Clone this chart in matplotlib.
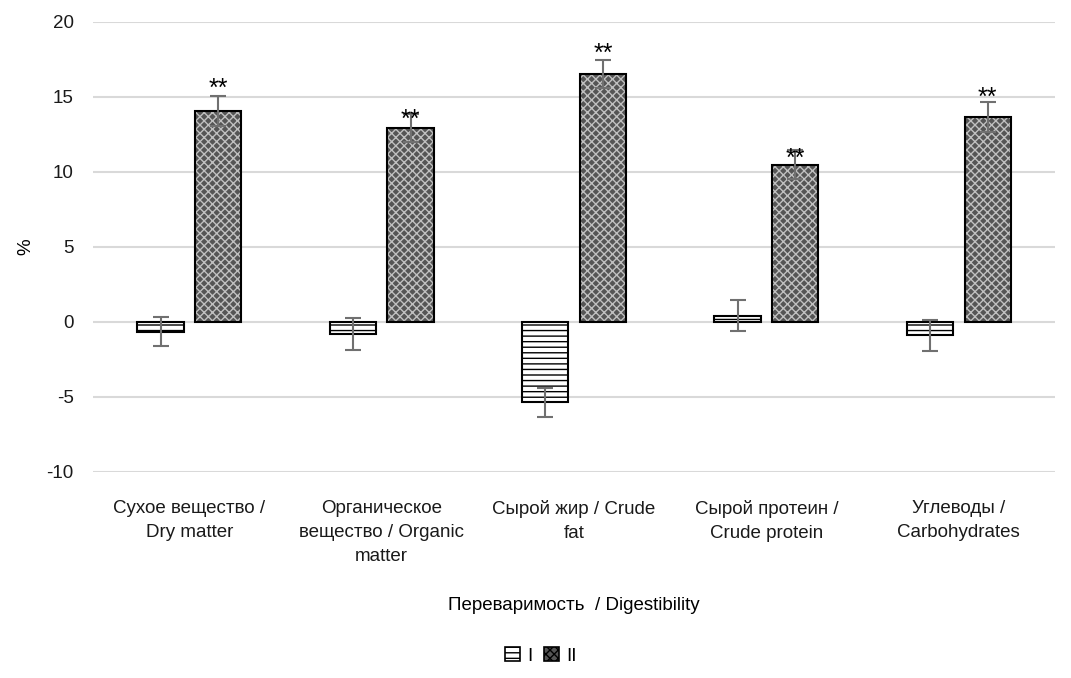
import matplotlib.pyplot as plt
import numpy as np
from matplotlib.patches import Patch

plt.rcParams.update({"font.family": ["Liberation Sans", "DejaVu Sans"], "hatch.linewidth": 1.0,
                     "axes.unicode_minus": False})

categories = ["Сухое вещество /\nDry matter",
              "Органическое\nвещество / Organic\nmatter",
              "Сырой жир / Crude\nfat",
              "Сырой протеин /\nCrude protein",
              "Углеводы /\nCarbohydrates"]
group1 = [-0.65, -0.8, -5.35, 0.4, -0.9]
group1_err = [0.95, 1.05, 0.97, 1.03, 1.03]
group2 = [14.07, 12.93, 16.53, 10.47, 13.67]
group2_err = [1.0, 0.95, 0.95, 0.97, 1.0]
stars = ["**", "**", "**", "**", "**"]
star_y = [15.5, 13.45, 17.85, 10.85, 14.95]

fig = plt.figure(figsize=(10.71, 6.78), dpi=100)
ax = fig.add_axes([0.087, 0.304, 0.898, 0.664])

x = np.arange(len(categories))
w = 0.24
off = 0.15
fs = 13.5

# group I: white with horizontal lines
ax.bar(x - off, group1, w, color="white", edgecolor="black", hatch="---", linewidth=1.5, zorder=3)
# group II: gray checker
ax.bar(x + off, group2, w, color="#555555", edgecolor="#c0c0c0", hatch="xxxx", linewidth=0, zorder=3)
ax.bar(x + off, group2, w, fill=False, edgecolor="black", linewidth=1.5, zorder=4)

ax.errorbar(x - off, group1, yerr=group1_err, fmt="none", ecolor="#707070", elinewidth=1.5,
            capsize=6, capthick=1.5, zorder=5)
ax.errorbar(x + off, group2, yerr=group2_err, fmt="none", ecolor="#707070", elinewidth=1.5,
            capsize=6, capthick=1.5, zorder=5)

for xi, s, sy in zip(x, stars, star_y):
    ax.text(xi + off, sy, s, ha="center", va="center", fontsize=18, zorder=6)

ax.set_xlim(-0.5, len(categories) - 0.5)
ax.set_ylim(-10, 20)
ax.set_yticks(np.arange(-10, 21, 5))
ax.set_xticks(x)
ax.set_xticklabels(categories, fontsize=fs, color="#1a1a1a", linespacing=1.55)
ax.tick_params(axis="y", labelsize=fs, length=0, pad=14, colors="#1a1a1a")
ax.tick_params(axis="x", length=0, pad=20)
ax.grid(axis="y", color="#d9d9d9", linewidth=1.5, zorder=0)
ax.set_axisbelow(True)
for sp in ax.spines.values():
    sp.set_visible(False)

ax.set_ylabel("%", fontsize=fs, labelpad=9)
ax.set_xlabel("Переваримость  / Digestibility", fontsize=fs, labelpad=23)

handles = [Patch(facecolor="white", edgecolor="black", hatch="---", linewidth=1.2),
           Patch(facecolor="#555555", edgecolor="black", hatch="xxxx", linewidth=1.2)]
fig.legend(handles, ["I", "II"], loc="lower center", bbox_to_anchor=(0.505, -0.005), ncol=2,
           frameon=False, fontsize=fs, handlelength=0.8, handleheight=0.8,
           handletextpad=0.4, columnspacing=0.6)

fig.savefig("out.png", dpi=100)
